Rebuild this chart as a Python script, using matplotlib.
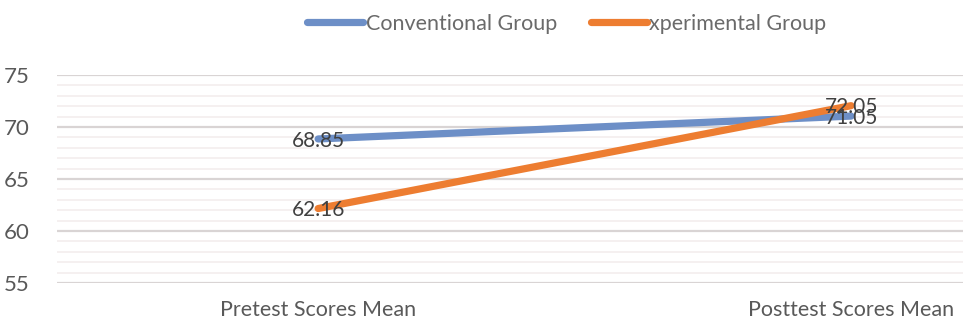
import matplotlib.pyplot as plt
from matplotlib.lines import Line2D

categories = ['Pretest Scores Mean', 'Posttest Scores Mean']
conventional = [68.85, 71.05]
experimental = [62.16, 72.05]
series_names = ['Conventional Group', 'xperimental Group']

plt.rcParams['font.family'] = ['Lato', 'DejaVu Sans']
text_color = '#595959'
blue = '#6d8fc7'
orange = '#ed7d31'

fig = plt.figure(figsize=(9.63, 3.22), dpi=100)
ax = fig.add_axes([57 / 963, 39 / 322, 1 - 57 / 963, 208 / 322])

x = list(range(len(categories)))
ax.plot(x, conventional, color=blue, lw=5.2, solid_capstyle='round', zorder=3)
ax.plot(x, experimental, color=orange, lw=5.2, solid_capstyle='round', zorder=4)

# data labels sit right on the points, like the Excel original
for xi, v in zip(x, conventional):
    ax.text(xi, v - 0.15, f'{v:.2f}', ha='center', va='center', fontsize=15, color='#404040', zorder=5)
for xi, v in zip(x, experimental):
    ax.text(xi, v - 0.15, f'{v:.2f}', ha='center', va='center', fontsize=15, color='#404040', zorder=5)

ax.set_ylim(55, 75)
ax.set_xlim(-0.49, 1.21)
ax.set_yticks([55, 60, 65, 70, 75])
ax.set_yticks(range(55, 76), minor=True)
ax.grid(axis='y', which='major', color='#d9d4d4', lw=1.6)
ax.grid(axis='y', which='minor', color='#f3eded', lw=1.2)
ax.set_axisbelow(True)
for s in ax.spines.values():
    s.set_visible(False)
ax.tick_params(axis='y', which='both', length=0, labelsize=16, labelcolor=text_color, pad=20)
ax.tick_params(axis='x', length=0, labelsize=15.5, labelcolor=text_color, pad=12)
ax.set_xticks(x)
ax.set_xticklabels(categories)

handles = [Line2D([0], [0], color=blue, lw=5.2, solid_capstyle='round'),
           Line2D([0], [0], color=orange, lw=5.2, solid_capstyle='round')]
fig.legend(handles, series_names, loc='center', bbox_to_anchor=(567 / 963, 1 - 24 / 322),
           ncol=2, frameon=False, fontsize=15.5, labelcolor='#6a6a6a',
           handlelength=2.6, handletextpad=0.1, columnspacing=1.6)

fig.savefig('out.png', dpi=100, facecolor='white')
